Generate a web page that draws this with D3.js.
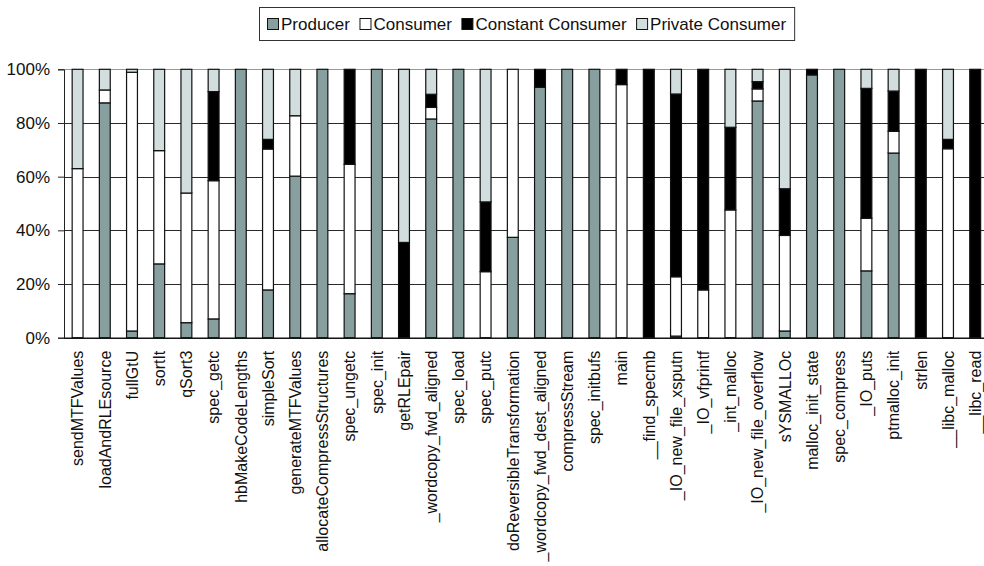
<!DOCTYPE html>
<html><head><meta charset="utf-8">
<script src="https://cdn.jsdelivr.net/npm/d3@7/dist/d3.min.js"></script>
<style>
html,body{margin:0;padding:0;background:#fff;}
svg{display:block;font-family:"Liberation Sans",Arial,sans-serif;}
</style></head>
<body><svg id="chart" width="984" height="566"></svg>
<script>
const categories = ["sendMTFValues","loadAndRLEsource","fullGtU","sortIt","qSort3","spec_getc","hbMakeCodeLengths","simpleSort","generateMTFValues","allocateCompressStructures","spec_ungetc","spec_init","getRLEpair","_wordcopy_fwd_aligned","spec_load","spec_putc","doReversibleTransformation","_wordcopy_fwd_dest_aligned","compressStream","spec_initbufs","main","__find_specmb","_IO_new_file_xsputn","_IO_vfprintf","_int_malloc","_IO_new_file_overflow","sYSMALLOc","malloc_init_state","spec_compress","_IO_puts","ptmalloc_init","strlen","__libc_malloc","__libc_read"];
const producer  = [0,87.5,2.5,27.5,5.6,7,100,17.8,60.2,100,16.4,100,0,81.5,100,0,37.4,93.3,100,100,0,0,0.6,0,0,88.2,2.5,97.9,100,24.9,68.8,0,0,0];
const consumer  = [63,4.8,96.4,42.2,48.3,51.5,0,52.5,22.5,0,48.2,0,0,4.3,0,24.6,62.6,0,0,0,94.3,0,22.1,17.8,47.6,4.5,35.6,0,0,19.6,8.1,0,70.4,0];
const constantC = [0,0,0,0,0,33.2,0,3.6,0,0,35.4,0,35.5,4.9,0,26,0,6.7,0,0,5.7,100,68.1,82.2,30.8,2.7,17.4,2.1,0,48.4,15,100,3.5,100];
const privateC  = [37,7.7,1.1,30.3,46.1,8.3,0,26.1,17.3,0,0,0,64.5,9.3,0,49.4,0,0,0,0,0,0,9.2,0,21.6,4.6,44.5,0,0,7.1,8.1,0,26.1,0];
const seriesNames = ["Producer","Consumer","Constant Consumer","Private Consumer"];
const yTicks = [0,20,40,60,80,100];

const colors = ["#889f9f","#ffffff","#000000","#d2dddd"];
const keys = ["p","c","k","v"];
const rows = categories.map((name,i)=>({name,p:producer[i],c:consumer[i],k:constantC[i],v:privateC[i]}));
const stacked = d3.stack().keys(keys).offset(d3.stackOffsetExpand)(rows);

const svg = d3.select("#chart");
const plotL = 64, plotR = 64 + 34*27.2, plotT = 69.3, plotB = 337.7;
const x = d3.scaleBand().domain(categories).range([plotL, plotR]).padding(0);
const y = d3.scaleLinear().domain([0,1]).range([plotB, plotT]);

// gridlines
const gl = svg.append("g");
gl.selectAll("line").data(yTicks).join("line")
  .attr("x1", plotL).attr("x2", plotR)
  .attr("y1", d=>Math.round(y(d/100))+0.5).attr("y2", d=>Math.round(y(d/100))+0.5)
  .attr("stroke", d=> d===100 ? "#8a9e9e" : "#2a2a2a").attr("stroke-width", 1);

// bars
const bw = x.bandwidth()*0.4;
svg.append("g").selectAll("g").data(stacked).join("g")
  .attr("fill", (d,i)=>colors[i])
  .selectAll("rect").data(d=>d.filter(s=>s[1]-s[0]>0)).join("rect")
  .attr("x", d=> x(d.data.name) + (x.bandwidth()-bw)/2)
  .attr("width", bw)
  .attr("y", d=> y(d[1]))
  .attr("height", d=> y(d[0]) - y(d[1]))
  .attr("stroke", "#111").attr("stroke-width", 1.2);

// y axis
const yAxis = d3.axisLeft(y).tickValues(yTicks.map(d=>d/100)).tickFormat(d=>Math.round(d*100)+"%").tickSize(6).tickPadding(8);
const ya = svg.append("g").attr("transform", `translate(${plotL},0)`).call(yAxis);
ya.select(".domain").attr("stroke","#222");
ya.selectAll(".tick line").attr("stroke","#222");
ya.selectAll("text").attr("font-size", 17).attr("fill","#111").attr("font-family","Liberation Sans, Arial, sans-serif");

// x axis
const xAxis = d3.axisBottom(x).tickSize(0).tickPadding(0);
const xa = svg.append("g").attr("transform", `translate(0,${plotB})`).call(xAxis);
xa.select(".domain").attr("stroke","#111").attr("stroke-width",1.2);
xa.selectAll("text")
  .attr("font-size", 16).attr("fill","#111").attr("font-family","Liberation Sans, Arial, sans-serif")
  .attr("text-anchor","end")
  .attr("transform","rotate(-90)")
  .attr("x", -13).attr("y", 0).attr("dy","0.36em");

// legend
const lg = svg.append("g");
const fs = 17;
let cx = 267;
const ly = 24;
seriesNames.forEach((n,i)=>{
  lg.append("rect").attr("x", cx+0.5).attr("y", ly-5.5).attr("width", 11).attr("height", 11)
    .attr("fill", colors[i]).attr("stroke","#111").attr("stroke-width",1);
  const t = lg.append("text").attr("x", cx+14).attr("y", ly).attr("dy","0.36em")
    .attr("font-size", fs).attr("fill","#111").text(n);
  const w = t.node().getComputedTextLength();
  cx += 14 + w + 9.5;
});
lg.insert("rect", ":first-child").attr("x", 259.5).attr("y", 7.5).attr("width", cx - 259.5 - 1).attr("height", 33)
  .attr("fill","#fff").attr("stroke","#333").attr("stroke-width",1);
</script></body></html>
